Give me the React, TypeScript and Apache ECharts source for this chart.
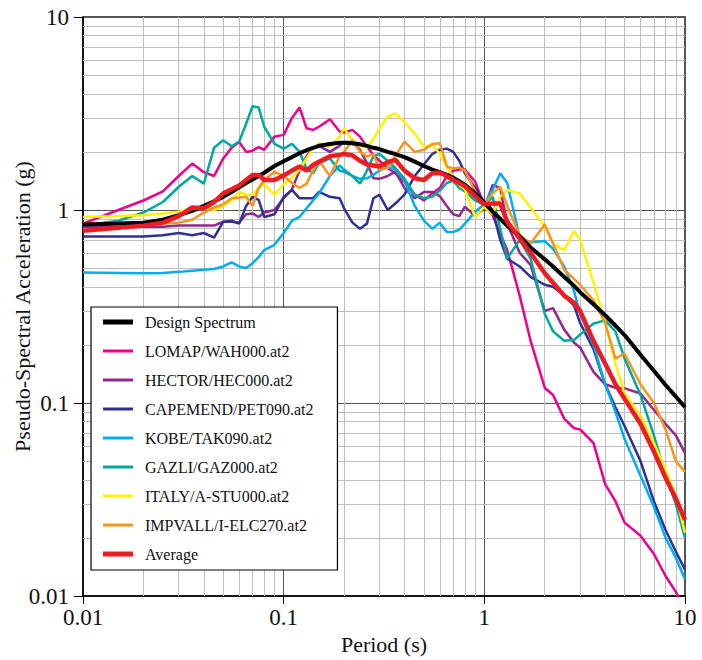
import React, { useEffect, useRef } from "react";
import * as echarts from "echarts";

const FONT = "Liberation Serif";

const periods = [
  0.01, 0.015, 0.02, 0.025, 0.03, 0.035, 0.04, 0.045, 0.05, 0.055,
  0.06, 0.065, 0.07, 0.075, 0.08, 0.09, 0.1, 0.11, 0.12, 0.13,
  0.14, 0.15, 0.17, 0.19, 0.2, 0.22, 0.24, 0.26, 0.28, 0.3,
  0.33, 0.36, 0.4, 0.45, 0.5, 0.55, 0.6, 0.65, 0.7, 0.75,
  0.8, 0.9, 1.0, 1.1, 1.2, 1.3, 1.5, 1.7, 2.0, 2.2,
  2.5, 2.8, 3.0, 3.5, 4.0, 4.5, 5.0, 6.0, 7.0, 8.0,
  9.0, 10,
];

const designSpectrum = [
  0.84, 0.85, 0.86, 0.89, 0.94, 0.99, 1.05, 1.11, 1.17, 1.24,
  1.31, 1.38, 1.44, 1.5, 1.56, 1.69, 1.79, 1.88, 1.97, 2.04,
  2.1, 2.15, 2.2, 2.23, 2.23, 2.22, 2.19, 2.15, 2.1, 2.07,
  2.0, 1.95, 1.88, 1.78, 1.69, 1.62, 1.57, 1.52, 1.47, 1.41,
  1.35, 1.22, 1.09, 0.98, 0.9, 0.83, 0.73, 0.64, 0.555, 0.51,
  0.45, 0.405, 0.375, 0.325, 0.285, 0.252, 0.225, 0.178, 0.147, 0.124,
  0.108, 0.095,
];

const lomap = [
  0.85, 1.0, 1.12, 1.25, 1.5, 1.74, 1.57, 1.5, 1.85, 2.1,
  2.25, 2.0, 2.03, 2.12, 2.05, 2.4, 2.45, 3.0, 3.4, 2.65,
  2.6, 2.7, 2.95, 2.55, 2.52, 2.6, 2.4, 2.13, 1.93, 1.8,
  1.65, 1.55, 1.4, 1.2, 1.12, 1.22, 1.3, 1.5, 1.6, 1.62,
  1.62, 1.4, 1.05, 0.94, 0.75, 0.62, 0.36, 0.21, 0.12, 0.11,
  0.083, 0.074, 0.073, 0.062, 0.038, 0.031, 0.024, 0.0205, 0.0165, 0.0127,
  0.0105, 0.0085,
];

const hector = [
  0.82, 0.82, 0.82, 0.82, 0.83, 0.83, 0.83, 0.83, 0.87, 0.87,
  0.86, 0.95, 0.96, 0.92, 0.97, 1.0, 1.15, 1.28, 1.6, 1.9,
  2.1, 2.15, 2.0, 2.15, 2.25, 2.25, 2.05, 1.75, 1.46, 1.45,
  1.5, 1.58, 1.3, 1.15, 1.24, 1.24, 1.18, 1.05, 0.95, 0.93,
  1.04, 0.93, 1.02, 1.35, 1.3, 0.85, 0.6, 0.52, 0.3, 0.31,
  0.24, 0.205, 0.194, 0.145, 0.125, 0.12, 0.119, 0.112, 0.092, 0.078,
  0.068, 0.055,
];

const capemend = [
  0.73, 0.73, 0.73, 0.74, 0.76, 0.74, 0.76, 0.72, 0.87, 0.88,
  0.85, 1.05, 1.17, 1.13, 0.92, 0.95, 1.17, 1.27, 1.15, 1.15,
  1.15, 1.24, 1.17, 1.15, 1.02, 0.86, 0.8, 0.85, 1.15, 1.2,
  1.0, 1.08, 1.2, 1.5, 1.72, 1.95, 2.05, 2.08, 2.0, 1.8,
  1.55, 1.3, 1.1, 1.0, 0.7, 0.56, 0.51, 0.45, 0.41, 0.4,
  0.36, 0.32, 0.26, 0.19, 0.125, 0.095, 0.076, 0.05, 0.031, 0.022,
  0.017, 0.0137,
];

const kobe = [
  0.475, 0.472, 0.47, 0.472, 0.478, 0.485, 0.49, 0.495, 0.51, 0.535,
  0.51, 0.5, 0.53, 0.57, 0.62, 0.66, 0.76, 0.88, 0.92, 1.02,
  1.12, 1.22, 1.5, 1.7, 1.62, 1.5, 1.45, 1.46, 1.52, 1.6,
  1.68, 1.62, 1.42, 1.05, 0.88, 0.8, 0.86, 0.77, 0.77, 0.79,
  0.85, 0.98, 1.07, 1.27, 1.55, 1.38, 0.72, 0.68, 0.69, 0.63,
  0.51, 0.38, 0.29, 0.2, 0.125, 0.09, 0.065, 0.042, 0.029, 0.02,
  0.0158, 0.0122,
];

const gazli = [
  0.83, 0.88, 0.97, 1.1, 1.32, 1.5, 1.37, 2.1, 2.3, 2.14,
  2.26, 2.8, 3.45, 3.4, 2.7, 2.2, 2.08, 2.2, 2.0, 1.64,
  1.55, 1.75, 1.85, 1.6, 1.58, 1.5, 1.37, 1.6, 1.9, 1.95,
  1.8, 1.65, 1.45, 1.2, 1.15, 1.17, 1.26, 1.38, 1.42, 1.3,
  1.25, 1.12, 1.06, 1.17, 0.8, 0.56, 0.7, 0.56, 0.29, 0.235,
  0.21, 0.212, 0.226, 0.258, 0.268, 0.235, 0.17, 0.11, 0.068, 0.042,
  0.03, 0.02,
];

const italy = [
  0.92, 0.93, 0.94, 0.96, 0.98, 1.0, 1.04, 1.0, 1.05, 1.12,
  1.24, 1.2, 1.2, 1.3, 1.36, 1.2, 1.36, 1.47, 1.62, 1.85,
  2.08, 2.22, 2.13, 2.4, 2.65, 2.3, 2.15, 2.1, 2.33, 2.65,
  3.04, 3.17, 2.85, 2.49, 2.13, 2.17, 1.95, 1.68, 1.48, 1.35,
  1.28, 0.92, 1.04, 0.95, 1.17, 1.27, 1.22, 1.03, 0.82, 0.67,
  0.62, 0.78, 0.7, 0.42, 0.26, 0.16, 0.112, 0.086, 0.062, 0.045,
  0.033, 0.0213,
];

const impvall = [
  0.85, 0.85, 0.85, 0.85, 0.86, 0.89, 0.97, 1.03, 1.07, 1.15,
  1.16, 1.17, 1.05, 1.3, 1.43, 1.58, 1.5, 1.38, 1.3, 1.37,
  1.6, 1.8, 1.5, 1.9, 2.0, 2.3, 2.0, 1.89, 1.95, 1.62,
  1.65, 1.9, 2.26, 2.0, 2.05, 2.2, 2.22, 1.68, 1.64, 1.66,
  1.6, 1.25, 1.06, 1.22, 1.32, 1.05, 0.74, 0.67, 0.84, 0.67,
  0.49, 0.44, 0.41, 0.34, 0.26, 0.17, 0.18, 0.125, 0.1, 0.073,
  0.05, 0.044,
];

const average = [
  0.78, 0.81, 0.83, 0.86, 0.93, 1.03, 1.02, 1.1, 1.22, 1.28,
  1.34, 1.43, 1.52, 1.52, 1.43, 1.43, 1.51, 1.6, 1.68, 1.6,
  1.71, 1.78, 1.9, 1.93, 1.95, 1.92, 1.8, 1.72, 1.7, 1.68,
  1.77, 1.82, 1.6, 1.46, 1.43, 1.55, 1.56, 1.5, 1.43, 1.38,
  1.33, 1.18, 1.07, 1.08, 1.08, 0.87, 0.71, 0.6, 0.47, 0.42,
  0.36, 0.33, 0.3, 0.21, 0.16, 0.125, 0.105, 0.078, 0.056, 0.041,
  0.032, 0.0248,
];

const minorGridValues = [
  0.02, 0.03, 0.04, 0.05, 0.06, 0.07, 0.08, 0.09,
  0.2, 0.3, 0.4, 0.5, 0.6, 0.7, 0.8, 0.9,
  2, 3, 4, 5, 6, 7, 8, 9,
];

const THIN_ICON = "path://M0,0 M30,14 M0,5.5 L30,5.5 L30,8.5 L0,8.5 Z";
const THICK_ICON = "path://M0,0 M30,14 M0,4.5 L30,4.5 L30,9.5 L0,9.5 Z";

const seriesDefs = [
  { name: "Design Spectrum", values: designSpectrum, color: "#000000", width: 4, z: 4, icon: THICK_ICON },
  { name: "LOMAP/WAH000.at2", values: lomap, color: "#ec008c", width: 2.5, z: 3, icon: THIN_ICON },
  { name: "HECTOR/HEC000.at2", values: hector, color: "#92278f", width: 2.5, z: 3, icon: THIN_ICON },
  { name: "CAPEMEND/PET090.at2", values: capemend, color: "#2e3192", width: 2.5, z: 3, icon: THIN_ICON },
  { name: "KOBE/TAK090.at2", values: kobe, color: "#00aeef", width: 2.5, z: 3, icon: THIN_ICON },
  { name: "GAZLI/GAZ000.at2", values: gazli, color: "#00a99d", width: 2.5, z: 3, icon: THIN_ICON },
  { name: "ITALY/A-STU000.at2", values: italy, color: "#fff200", width: 2.5, z: 3, icon: THIN_ICON },
  { name: "IMPVALL/I-ELC270.at2", values: impvall, color: "#f7941d", width: 2.5, z: 3, icon: THIN_ICON },
  { name: "Average", values: average, color: "#ed1c24", width: 4.5, z: 5, icon: THICK_ICON },
];

export default function App() {
  const ref = useRef<HTMLDivElement>(null);

  useEffect(() => {
    document.body.style.margin = "0";
    if (!ref.current) return;
    const chart = echarts.init(ref.current, undefined, { renderer: "svg" });

    const fmt = (v: number) => String(Number(v.toPrecision(3)));

    const gridSeries: any = {
      name: "__grid",
      type: "line",
      data: [[0.01, 0.01]],
      showSymbol: false,
      symbol: "none",
      silent: true,
      lineStyle: { opacity: 0 },
      z: 1,
      markLine: {
        silent: true,
        z: 1,
        symbol: ["none", "none"],
        label: { show: false },
        emphasis: { disabled: true },
        animation: false,
        lineStyle: { color: "#bdbdbd", width: 1, type: "solid" },
        data: [
          ...minorGridValues.map((v) => ({ xAxis: v })),
          ...minorGridValues.map((v) => ({ yAxis: v })),
        ],
      },
    };

    const lineSeries = seriesDefs.map((s) => ({
      name: s.name,
      type: "line",
      data: periods.map((t, i) => [t, s.values[i]]),
      symbol: "none",
      showSymbol: false,
      smooth: false,
      clip: true,
      z: s.z,
      lineStyle: { color: s.color, width: s.width },
      itemStyle: { color: s.color },
      emphasis: { disabled: true },
    }));

    chart.setOption({
      animation: false,
      backgroundColor: "#ffffff",
      textStyle: { fontFamily: FONT },
      grid: {
        left: 83,
        right: 17,
        top: 17,
        bottom: 64,
        containLabel: false,
        outerBoundsMode: "none",
        show: true,
        borderColor: "#222",
        borderWidth: 1.5,
        backgroundColor: "transparent",
      },
      legend: {
        orient: "vertical",
        left: 91,
        top: 307,
        data: seriesDefs.map((s) => ({ name: s.name, icon: s.icon })),
        backgroundColor: "#ffffff",
        borderColor: "#000",
        borderWidth: 1.2,
        borderRadius: 0,
        padding: [7, 24, 8, 12],
        itemGap: 13,
        itemWidth: 30,
        itemHeight: 14,
        selectedMode: false,
        textStyle: {
          fontFamily: FONT,
          fontSize: 16,
          color: "#111",
          padding: [0, 0, 0, 7],
        },
        z: 10,
      },
      xAxis: {
        type: "log",
        logBase: 10,
        min: 0.01,
        max: 10,
        name: "Period (s)",
        nameLocation: "middle",
        nameGap: 37,
        nameMoveOverlap: false,
        nameTextStyle: { fontFamily: FONT, fontSize: 22, color: "#111" },
        axisLine: { show: true, lineStyle: { color: "#000", width: 1.5 } },
        axisTick: { show: true, length: 8, lineStyle: { color: "#000", width: 1 } },
        axisLabel: {
          fontFamily: FONT,
          fontSize: 23,
          color: "#111",
          margin: 10,
          formatter: fmt,
        },
        splitLine: { show: true, lineStyle: { color: "#555", width: 1 } },
      },
      yAxis: {
        type: "log",
        logBase: 10,
        min: 0.01,
        max: 10,
        name: "Pseudo-Spectral Acceleration (g)",
        nameLocation: "middle",
        nameGap: 50,
        nameMoveOverlap: false,
        nameTextStyle: { fontFamily: FONT, fontSize: 22, color: "#111" },
        axisLine: { show: true, lineStyle: { color: "#000", width: 1.5 } },
        axisTick: { show: true, length: 9, lineStyle: { color: "#000", width: 1 } },
        axisLabel: {
          fontFamily: FONT,
          fontSize: 23,
          color: "#111",
          margin: 14,
          formatter: fmt,
        },
        splitLine: { show: true, lineStyle: { color: "#555", width: 1 } },
      },
      series: [gridSeries, ...lineSeries],
    });

    return () => {
      chart.dispose();
    };
  }, []);

  return <div ref={ref} style={{ width: 702, height: 660 }} />;
}
